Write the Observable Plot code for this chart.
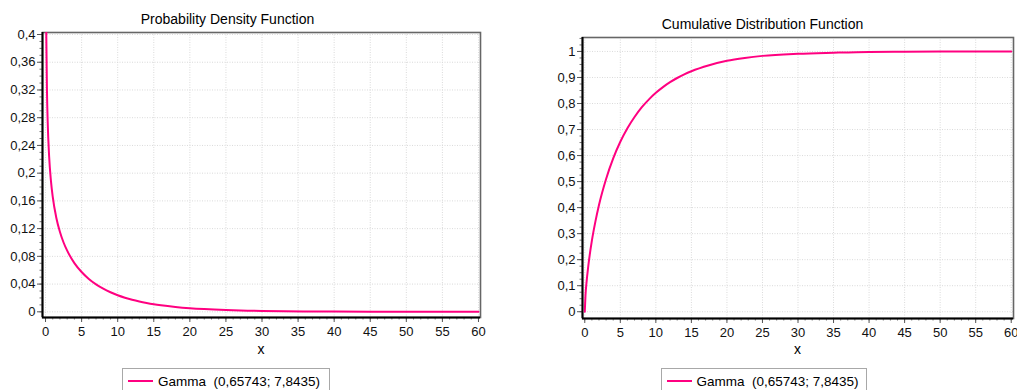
<!DOCTYPE html>
<html><head><meta charset="utf-8">
<script src="https://cdn.jsdelivr.net/npm/d3@7"></script>
<script src="https://cdn.jsdelivr.net/npm/@observablehq/plot@0.6"></script>
<style>
body{margin:0;background:#fff;font-family:"Liberation Sans",Arial,sans-serif;}
#wrap{position:relative;width:1017px;height:390px;overflow:hidden;background:#fff}
.abs{position:absolute;}
.title{font-size:14px;line-height:16px;text-align:center;width:300px;color:#000;white-space:nowrap}
.xlab{font-size:14px;line-height:16px;text-align:center;width:40px;color:#000}
.legend{border:1px solid #a8a8a8;box-sizing:border-box;height:26px;background:#fff}
.swatch{position:absolute;height:2px;width:25px;background:#ff0080}
.ltext{position:absolute;font-size:13.5px;line-height:16px;white-space:pre;color:#000}
svg{position:absolute;top:0}
</style></head><body><div id="wrap"></div>
<script>
// ---- data ----
const pdfX = [0.1, 0.11, 0.2, 0.3, 0.5, 0.75, 1, 1.5, 2, 2.5, 3, 4, 5, 6, 7, 8, 9, 10, 11, 12, 13, 14, 15, 16, 18, 20, 22, 25, 28, 30, 33, 36, 40, 45, 50, 55, 60];
const pdfY = [0.409, 0.3955, 0.3186, 0.2738, 0.2240, 0.1889, 0.1658, 0.1354, 0.1151, 0.1000, 0.0882, 0.0703, 0.0574, 0.0474, 0.0396, 0.0333, 0.0282, 0.0239, 0.0204, 0.0174, 0.0149, 0.0128, 0.0110, 0.0095, 0.0071, 0.0053, 0.0040, 0.0026, 0.0017, 0.0013, 0.0008, 0.0005, 0.0003, 0.0001, 0.00005, 0.00002, 0.00001];
const cdfX = [0, 0.1, 0.25, 0.5, 1, 1.5, 2, 3, 4, 5, 6, 7, 8, 9, 10, 11, 12, 13, 14, 15, 17.5, 20, 22.5, 25, 30, 35, 40, 45, 50, 55, 60];
const cdfY = [0, 0.063, 0.114, 0.177, 0.273, 0.347, 0.410, 0.510, 0.589, 0.653, 0.705, 0.748, 0.785, 0.815, 0.841, 0.863, 0.882, 0.898, 0.912, 0.924, 0.947, 0.964, 0.975, 0.983, 0.991, 0.995, 0.998, 0.9988, 0.9994, 0.9997, 0.9998];
const xTicks = [0, 5, 10, 15, 20, 25, 30, 35, 40, 45, 50, 55, 60];
const xMinorTicks = d3.range(0, 61, 1);
const pdfYTicks = [0, 0.04, 0.08, 0.12, 0.16, 0.2, 0.24, 0.28, 0.32, 0.36, 0.4];
const pdfYMinorTicks = d3.range(0, 41, 1).map(d => d / 100);
const cdfYTicks = [0, 0.1, 0.2, 0.3, 0.4, 0.5, 0.6, 0.7, 0.8, 0.9, 1];
const cdfYMinorTicks = d3.range(0, 43, 1).map(d => d * 0.025);
const titles = ["Probability Density Function", "Cumulative Distribution Function"];
const xLabel = "x";
const seriesName = "Gamma  (0,65743; 7,8435)";
const lineColor = "#ff0080";

const fmt = d => String(+d.toFixed(4)).replace(".", ",");
const font = "'Liberation Sans', Arial, sans-serif";

function chart({xs, ys, xDomain, yDomain, yTicks, yMinor, width, margins}) {
  const data = xs.map((x, i) => ({x, y: ys[i]}));
  const grid = {stroke: "#dadada", strokeOpacity: 1, strokeDasharray: "1,1.5"};
  return Plot.plot({
    width, height: 390,
    marginTop: margins[0], marginRight: margins[1], marginBottom: margins[2], marginLeft: margins[3],
    x: {domain: xDomain},
    y: {domain: yDomain},
    style: {fontFamily: font, fontSize: "13px", color: "#111", background: "transparent", overflow: "visible"},
    marks: [
      Plot.gridX(xTicks, grid),
      Plot.gridY(yTicks, grid),
      Plot.frame({stroke: "#666", strokeWidth: 1.6}),
      Plot.axisY(yMinor.filter(d => d >= yDomain[0] && d <= yDomain[1]), {tickSize: 2.5, tickFormat: () => "", stroke: "#777", label: null}),
      Plot.axisX(xMinorTicks, {tickSize: 2.5, tickFormat: () => "", stroke: "#777", label: null}),
      Plot.axisY(yTicks, {tickSize: 5, tickPadding: 2, tickFormat: fmt, stroke: "#555", fill: "#111", label: null, fontSize: 13}),
      Plot.axisX(xTicks, {tickSize: 5, tickPadding: 4, tickFormat: fmt, stroke: "#555", fill: "#111", label: null, fontSize: 13}),
      Plot.ruleX([xDomain[0]], {stroke: "#000", strokeWidth: 2}),
      Plot.ruleY([yDomain[0]], {stroke: "#000", strokeWidth: 2}),
      Plot.line(data, {x: "x", y: "y", stroke: lineColor, strokeWidth: 2, curve: "monotone-x", clip: true})
    ]
  });
}

const wrap = document.getElementById("wrap");

const left = chart({xs: pdfX, ys: pdfY, xDomain: [-0.42, 60.28], yDomain: [-0.0082, 0.4029],
  yTicks: pdfYTicks, yMinor: pdfYMinorTicks, width: 508, margins: [32, 28, 73, 42]});
left.style.left = "0px";
wrap.appendChild(left);

const right = chart({xs: cdfX, ys: cdfY, xDomain: [-0.32, 60.32], yDomain: [-0.026, 1.0536],
  yTicks: cdfYTicks, yMinor: cdfYMinorTicks, width: 509, margins: [37, 4, 72, 74]});
right.style.left = "508px";
wrap.appendChild(right);

function addDiv(cls, text, left, top, extra) {
  const d = document.createElement("div");
  d.className = "abs " + cls;
  d.textContent = text;
  d.style.left = left + "px";
  d.style.top = top + "px";
  if (extra) Object.assign(d.style, extra);
  wrap.appendChild(d);
  return d;
}
// titles
addDiv("title", titles[0], 227.5 - 150, 10.5);
addDiv("title", titles[1], 762.5 - 150, 16.2);
// x labels
addDiv("xlab", xLabel, 261 - 20, 340.5);
addDiv("xlab", xLabel, 797.5 - 20, 340.5);
// legends
function legend(x0, w) {
  const box = addDiv("legend", "", x0, 368, {width: w + "px"});
  const sw = document.createElement("div");
  sw.className = "swatch";
  sw.style.left = "5px"; sw.style.top = "11px";
  box.appendChild(sw);
  const t = document.createElement("div");
  t.className = "ltext";
  t.textContent = seriesName;
  t.style.left = "35px"; t.style.top = "5px";
  box.appendChild(t);
}
legend(122, 208);
legend(660.5, 206);
</script>
</body></html>
